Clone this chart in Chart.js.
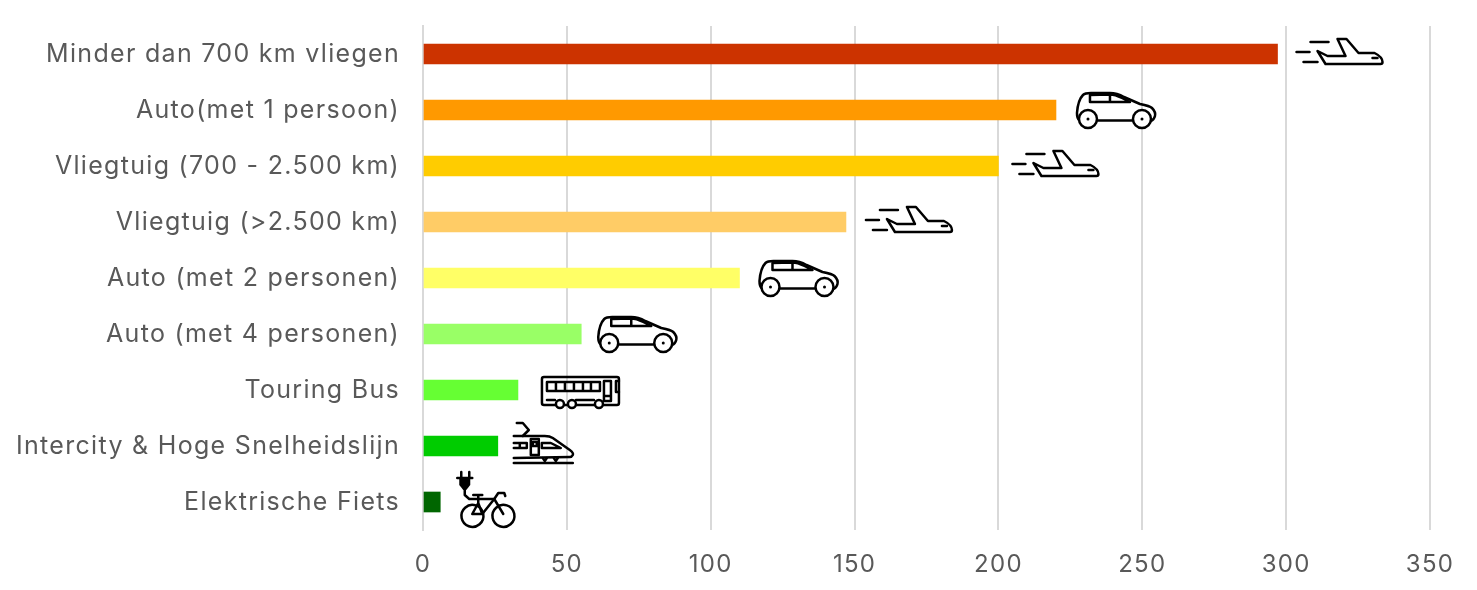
<!DOCTYPE html>
<html>
<head>
<meta charset="utf-8">
<style>
  html, body { margin: 0; padding: 0; background: #fff; }
  #wrap { width: 1477px; height: 590px; }
</style>
<script src="https://cdn.jsdelivr.net/npm/chart.js@4"></script>
</head>
<body>
<div id="wrap"><canvas id="co2Chart"></canvas></div>
<script>
const categories = [
  'Minder dan 700 km vliegen', 'Auto(met 1 persoon)', 'Vliegtuig (700 - 2.500 km)',
  'Vliegtuig (>2.500 km)', 'Auto (met 2 personen)', 'Auto (met 4 personen)',
  'Touring Bus', 'Intercity & Hoge Snelheidslijn', 'Elektrische Fiets'
];
const emissions = [297, 220, 200, 147, 110, 55, 33, 26, 6];
const xTicks = [0, 50, 100, 150, 200, 250, 300, 350];
const vehicles = ['plane', 'car', 'plane', 'plane', 'car', 'car', 'bus', 'train', 'bike'];

const barColors = ['#cc3300', '#ff9900', '#ffcc00', '#ffcc66', '#ffff66', '#99ff66', '#66ff33', '#00cc00', '#006600'];
const iconGaps = [19, 21, 14, 20, 20, 17, 24, 16, 17];

const textColor = '#595959';
const gridColor = '#d9d9d9';
const labelFont = { family: 'Inter', size: 25, weight: '400' };
const tickFont = { family: 'Inter', size: 24, weight: '400' };

// icons are line drawings around (0,0) = left edge, bar centre
const iconPaths = {
  plane: [
    'M14,-12 L32,-12 M0,-2 L13,-2 M7,8 L21,8',
    'M21,-3 L31,2 L49,2 L41,-15 L50,-15 L62,-1 L78,-1 Q86,3 86,8 Q86,10 84,10 L29,10 Z',
    'M76,4 L81,4'
  ],
  car: [
    'M2,10 Q0,8 0,3 Q1,-10 6,-15 Q8,-17 14,-17 L33,-17 Q40,-17 47,-13 L63,-6 Q73,-4 75,-2 Q79,2 78,6 Q77,10 74,11',
    'M20,10.5 L56,10.5',
    'M13,-15 L13,-8 L53,-8 L45,-12 Q38,-15.5 33,-15.5 Z M33,-15.5 L33,-8'
  ],
  bus: [
    'M2,-13 L75,-13 Q77,-13 77,-11 L77,13 Q77,15 75,15 L2,15 Q0,15 0,13 L0,-11 Q0,-13 2,-13 Z',
    'M5,-8 L58,-8 L58,1 L5,1 Z M14,-8 L14,1 M23,-8 L23,1 M32,-8 L32,1 M41,-8 L41,1 M49,-8 L49,1',
    'M62,-9 L69,-9 L69,11 L62,11 Z M62,6 L69,6 M77,-9 L74,-9 L74,2 L77,2',
    'M5,10 L13,10 M34,10 L52,10'
  ],
  train: [
    'M3,-23 L9,-23 L15,-16 L9,-10',
    'M0,-10 L31,-10 Q36,-10 39,-8 L56,4 Q60,7 59,9 Q58,11 56,11 L0,12',
    'M17,9 L17,-7 L25,-7 L25,9 Z M19,-4 L23,-4 L23,0 L19,0 Z',
    'M0,-3 L13,-3 L13,2 L0,2 M6,-3 L6,2 M28,-3 L37,-3 L47,2 L28,2 Z',
    'M29,12 L31,15 L33,12 M40,12 L42,15 L44,12',
    'M0,17 L59,17'
  ],
  bike: [
    'M4,-30 L4,-24 M12,-30 L12,-24 M0,-24 L15,-24',
    'M7.5,-12 L7.5,-7 L12,-3 L37,-3',
    'M15,12 L21,1 L25,12 Z M21,-7 L21,1 M16,-7 L25,-7 M25,12 L37,-3 L46,12 M37,-3 L41,-9 L47,-9 L48,-6',
    'M26,12 A11,11 0 1 1 25.9,11.5 Z M57,12 A11,11 0 1 1 56.9,11.5 Z'
  ]
};
// white-filled wheels: centre x, centre y, radius, hub dot
const iconWheels = {
  car: [[11, 9, 9, true], [65, 9, 9, true]],
  bus: [[18, 14, 4, false], [30, 14, 4, false], [57, 14, 4, false]]
};
const iconSolids = {
  bike: ['M2,-24 L13,-24 L13,-17 L9,-12 L6,-12 L2,-17 Z']
};

// the reference face is wider than any installed one, so space the letters out
const spacedLabels = {
  id: 'spacedLabels',
  beforeDraw(chart) {
    chart.ctx.letterSpacing = '1.3px';
  }
};

const vehicleIcons = {
  id: 'vehicleIcons',
  afterDatasetsDraw(chart) {
    const { ctx, scales } = chart;
    ctx.save();
    ctx.strokeStyle = '#000';
    ctx.lineWidth = 2.5;
    ctx.lineJoin = 'round';
    ctx.lineCap = 'round';
    vehicles.forEach((kind, i) => {
      ctx.save();
      ctx.translate(scales.x.getPixelForValue(emissions[i]) + iconGaps[i], scales.y.getPixelForValue(i));
      iconPaths[kind].forEach(d => ctx.stroke(new Path2D(d)));
      (iconSolids[kind] || []).forEach(d => {
        ctx.fillStyle = '#000';
        ctx.fill(new Path2D(d));
      });
      (iconWheels[kind] || []).forEach(([cx, cy, r, hub]) => {
        ctx.beginPath();
        ctx.arc(cx, cy, r, 0, Math.PI * 2);
        ctx.fillStyle = '#fff';
        ctx.fill();
        ctx.stroke();
        if (hub) {
          ctx.beginPath();
          ctx.arc(cx, cy, 1.5, 0, Math.PI * 2);
          ctx.fillStyle = '#000';
          ctx.fill();
        }
      });
      ctx.restore();
    });
    ctx.restore();
  }
};

new Chart(document.getElementById('co2Chart'), {
  type: 'bar',
  data: {
    labels: categories,
    datasets: [{ data: emissions, backgroundColor: barColors, barThickness: 20 }]
  },
  plugins: [spacedLabels, vehicleIcons],
  options: {
    indexAxis: 'y',
    responsive: true,
    maintainAspectRatio: false,
    animation: false,
    layout: { padding: { top: 26, right: 47, left: 0, bottom: 0 } },
    plugins: { legend: { display: false }, tooltip: { enabled: false } },
    scales: {
      x: {
        min: 0,
        max: 350,
        afterFit(axis) { axis.height = 60; },
        afterBuildTicks(axis) { axis.ticks = xTicks.map(value => ({ value })); },
        grid: { color: gridColor, lineWidth: 2, drawTicks: false },
        border: { display: false },
        ticks: { color: textColor, font: tickFont, padding: 20, maxRotation: 0 }
      },
      y: {
        afterFit(axis) {
          axis.width = 423;
          axis.paddingTop = 0;
          axis.paddingBottom = 0;
        },
        grid: { display: false },
        border: { color: gridColor, width: 2 },
        ticks: { color: textColor, font: labelFont, padding: 15, autoSkip: false }
      }
    }
  }
});
</script>
</body>
</html>
